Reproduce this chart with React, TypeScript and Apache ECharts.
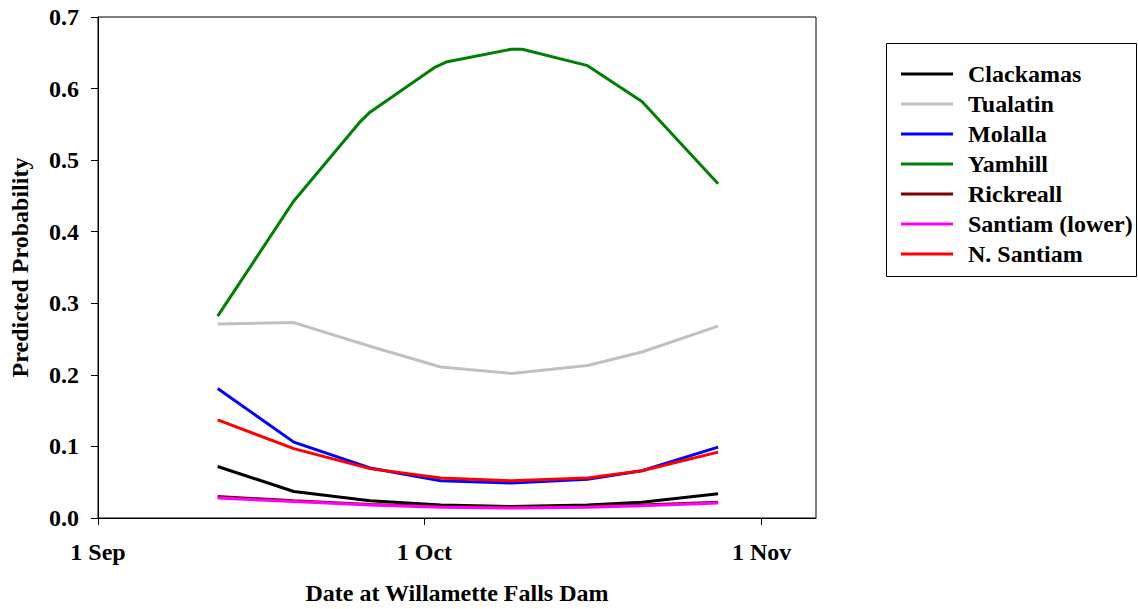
import React, { useEffect, useRef } from 'react';
import * as echarts from 'echarts';

// days since 1 Sep
const days = [11, 18, 25, 31.5, 38, 45, 50, 57];
const yamhillDays = [11, 18, 24, 25, 31, 32, 38, 39, 45, 50, 57];
const clackamas = [0.072, 0.037, 0.024, 0.018, 0.016, 0.018, 0.022, 0.034];
const tualatin = [0.271, 0.273, 0.240, 0.211, 0.202, 0.213, 0.232, 0.268];
const molalla = [0.181, 0.106, 0.070, 0.052, 0.049, 0.054, 0.066, 0.099];
const yamhill = [0.282, 0.443, 0.552, 0.567, 0.630, 0.637, 0.655, 0.655, 0.632, 0.582, 0.467];
const rickreall = [0.030, 0.024, 0.019, 0.016, 0.015, 0.016, 0.018, 0.022];
const santiamLower = [0.028, 0.023, 0.018, 0.015, 0.014, 0.015, 0.017, 0.021];
const nSantiam = [0.137, 0.097, 0.069, 0.056, 0.052, 0.056, 0.066, 0.092];

const tickDays = [0, 30, 61];
const tickLabels = ['1 Sep', '1 Oct', '1 Nov'];

const seriesDefs = [
  { name: 'Clackamas', x: days, y: clackamas, color: '#000000' },
  { name: 'Tualatin', x: days, y: tualatin, color: '#c0c0c0' },
  { name: 'Molalla', x: days, y: molalla, color: '#0000ff' },
  { name: 'Yamhill', x: yamhillDays, y: yamhill, color: '#008000' },
  { name: 'Rickreall', x: days, y: rickreall, color: '#800000' },
  { name: 'Santiam (lower)', x: days, y: santiamLower, color: '#ff00ff' },
  { name: 'N. Santiam', x: days, y: nSantiam, color: '#ff0000' },
];

const FONT = "'Liberation Serif', 'Times New Roman', serif";

export default function App() {
  const ref = useRef<HTMLDivElement>(null);
  useEffect(() => {
    if (!ref.current) return;
    const chart = echarts.init(ref.current, undefined, { renderer: 'svg' });
    chart.setOption({
      animation: false,
      backgroundColor: '#ffffff',
      grid: {
        left: 98,
        right: 322,
        top: 17,
        bottom: 91,
        show: true,
        borderColor: '#000',
        borderWidth: 1,
        backgroundColor: 'transparent',
        containLabel: false,
        outerBoundsMode: 'none',
      },
      xAxis: {
        type: 'value',
        min: 0,
        max: 66,
        name: 'Date at Willamette Falls Dam',
        nameLocation: 'middle',
        nameGap: 63,
        nameTextStyle: { fontFamily: FONT, fontWeight: 'bold', fontSize: 24, color: '#000' },
        axisLine: { show: true, lineStyle: { color: '#000', width: 1 } },
        axisTick: { show: true, inside: false, length: 7, customValues: tickDays, lineStyle: { color: '#000' } },
        axisLabel: {
          customValues: tickDays,
          margin: 22,
          fontFamily: FONT,
          fontWeight: 'bold',
          fontSize: 24,
          color: '#000',
          formatter: (v: number) => tickLabels[tickDays.indexOf(v)] ?? '',
        },
        splitLine: { show: false },
      },
      yAxis: {
        type: 'value',
        min: 0,
        max: 0.7,
        interval: 0.1,
        name: 'Predicted Probability',
        nameLocation: 'middle',
        nameGap: 66,
        nameTextStyle: { fontFamily: FONT, fontWeight: 'bold', fontSize: 24, color: '#000' },
        axisLine: { show: true, lineStyle: { color: '#000', width: 1 } },
        axisTick: { show: true, inside: false, length: 7, lineStyle: { color: '#000' } },
        axisLabel: {
          margin: 19,
          fontFamily: FONT,
          fontWeight: 'bold',
          fontSize: 24,
          color: '#000',
          formatter: (v: number) => v.toFixed(1),
        },
        splitLine: { show: false },
      },
      legend: {
        orient: 'vertical',
        left: 886,
        top: 43,
        padding: [19, 10, 10, 15],
        itemWidth: 52,
        itemHeight: 3,
        itemGap: 6,
        icon: 'rect',
        textStyle: { fontFamily: FONT, fontWeight: 'bold', fontSize: 24, color: '#000', lineHeight: 24, padding: [0, 0, 0, 10] },
        data: seriesDefs.map((s) => s.name),
      },
      graphic: [
        {
          type: 'rect',
          shape: { x: 886.5, y: 43.5, width: 250, height: 233 },
          style: { fill: 'none', stroke: '#000', lineWidth: 1 },
          silent: true,
        },
      ],
      series: seriesDefs.map((s) => ({
        name: s.name,
        type: 'line',
        data: s.x.map((d, i) => [d, s.y[i]]),
        showSymbol: false,
        symbol: 'none',
        lineStyle: { color: s.color, width: 3 },
        itemStyle: { color: s.color },
      })),
    });
    return () => chart.dispose();
  }, []);
  return (
    <div
      ref={ref}
      style={{ position: 'fixed', left: 0, top: 0, width: 1138, height: 609, background: '#fff' }}
    />
  );
}
